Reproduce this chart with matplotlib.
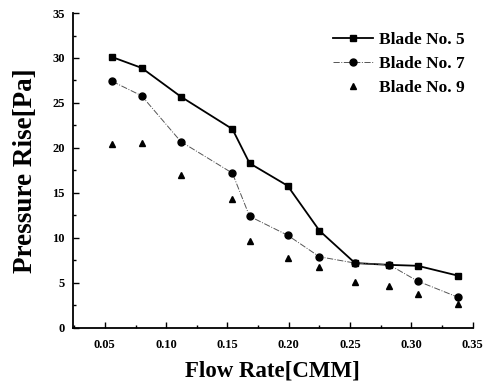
import matplotlib
matplotlib.use("Agg")
import matplotlib.pyplot as plt
from matplotlib.ticker import MultipleLocator

plt.rcParams["font.family"] = ["Liberation Serif", "DejaVu Serif"]
plt.rcParams["font.weight"] = "bold"

flow = [0.056, 0.080, 0.112, 0.154, 0.168, 0.199, 0.225, 0.254, 0.282, 0.305, 0.338]
blade5 = [30.1, 28.9, 25.7, 22.1, 18.3, 15.8, 10.8, 7.2, 7.0, 6.9, 5.8]
blade7 = [27.4, 25.8, 20.7, 17.2, 12.4, 10.3, 7.9, 7.2, 7.0, 5.2, 3.4]
blade9 = [20.4, 20.5, 17.0, 14.3, 9.6, 7.8, 6.8, 5.1, 4.7, 3.8, 2.7]

fig = plt.figure(figsize=(4.93, 3.83), dpi=100)
ax = fig.add_axes([0.148, 0.144, 0.811, 0.822])

ax.plot(flow, blade5, "-", color="black", lw=1.3, marker="s", ms=5,
        label="Blade No. 5")
ax.plot(flow, blade7, "-.", color="#555555", lw=0.7, marker="o", ms=5,
        mfc="black", mec="black", label="Blade No. 7")
ax.plot(flow, blade9, ls="none", color="black", marker="^", ms=4,
        label="Blade No. 9")

ax.set_xlim(0.024, 0.35)
ax.set_ylim(0, 35)
ax.xaxis.set_minor_locator(MultipleLocator(0.025))
ax.yaxis.set_major_locator(MultipleLocator(5))
ax.yaxis.set_minor_locator(MultipleLocator(2.5))
ax.set_xticks([0.05, 0.10, 0.15, 0.20, 0.25, 0.30, 0.35])
ax.set_xticklabels(["0.05", "0.10", "0.15", "0.20", "0.25", "0.30", "0.35"])
ax.tick_params(which="both", direction="in", labelsize=9, width=1)
ax.tick_params(which="major", length=4)
ax.tick_params(which="minor", length=2)
ax.tick_params(axis="x", pad=8)
ax.tick_params(axis="y", pad=6)
for lab in ax.get_xticklabels() + ax.get_yticklabels():
    lab.set_fontweight("bold")

ax.spines["top"].set_visible(False)
ax.spines["right"].set_visible(False)
ax.spines["left"].set_linewidth(1.3)
ax.spines["bottom"].set_linewidth(1.3)

ax.set_xlabel("Flow Rate[CMM]", fontsize=16.5, fontweight="bold", labelpad=7)
ax.set_ylabel("Pressure Rise[Pa]", fontsize=19.5, fontweight="bold", labelpad=10)

ax.legend(loc="upper right", bbox_to_anchor=(1.02, 0.99), frameon=False,
          prop={"size": 12.5, "weight": "bold"}, handlelength=2.3,
          handletextpad=0.35, labelspacing=0.45)

fig.savefig("out.png", dpi=100)
